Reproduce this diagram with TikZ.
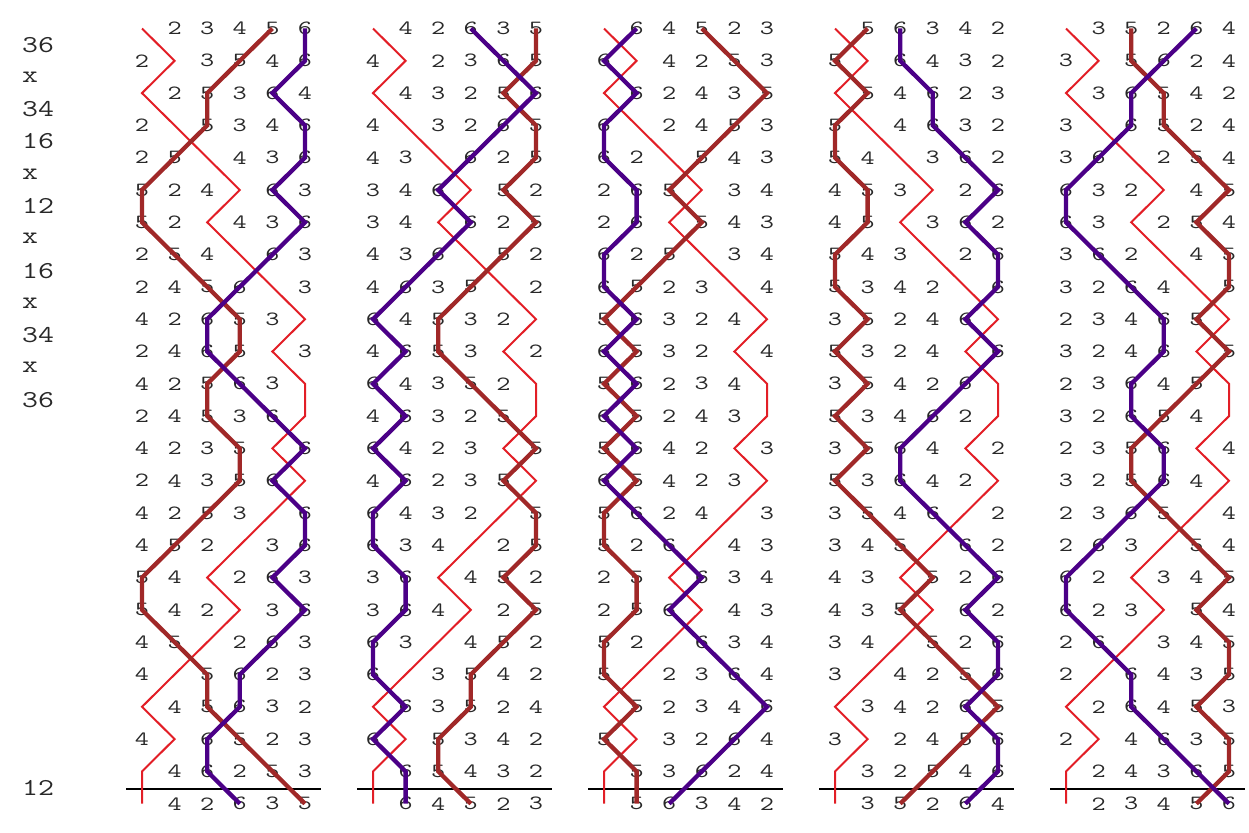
\documentclass[tikz,border=0pt]{standalone}
\usepackage{fontspec}
\definecolor{treblered}{RGB}{226,30,38}
\definecolor{bellbrown}{RGB}{160,40,40}
\definecolor{bellpurple}{RGB}{75,0,135}
\definecolor{numgray}{RGB}{40,40,40}
% lead-head mappings (bell in lead 0 -> bell in lead k)
\def\leadmaps{{1,2,3,4,5,6},{1,4,2,6,3,5},{1,6,4,5,2,3},{1,5,6,3,4,2},{1,3,5,2,6,4}}
% rows of the first lead
\def\rowlist{{1,2,3,4,5,6},{2,1,3,5,4,6},{1,2,5,3,6,4},{2,1,5,3,4,6},{2,5,1,4,3,6},{5,2,4,1,6,3},{5,2,1,4,3,6},{2,5,4,1,6,3},{2,4,5,6,1,3},{4,2,6,5,3,1},{2,4,6,5,1,3},{4,2,5,6,3,1},{2,4,5,3,6,1},{4,2,3,5,1,6},{2,4,3,5,6,1},{4,2,5,3,1,6},{4,5,2,1,3,6},{5,4,1,2,6,3},{5,4,2,1,3,6},{4,5,1,2,6,3},{4,1,5,6,2,3},{1,4,5,6,3,2},{4,1,6,5,2,3},{1,4,6,2,5,3},{1,4,2,6,3,5}}
\newcommand\stretchnum[1]{\scalebox{1.36}[1]{#1}}
\newcommand\stretchlbl[1]{\scalebox{1.28}[1]{#1}}
\begin{document}
\begin{tikzpicture}[x=1pt,y=-1pt,
  num/.style={inner sep=0pt,text=numgray,font=\ttfamily\fontsize{20.2}{20.2}\selectfont},
  lbl/.style={inner sep=0pt,anchor=west,text=numgray,font=\ttfamily\fontsize{24.2}{24.2}\selectfont},
  treble/.style={draw=treblered,line width=2pt},
  bellfive/.style={draw=bellbrown,line width=4.3pt},
  bellsix/.style={draw=bellpurple,line width=4.3pt},
  leadend/.style={draw=black,line width=2pt}]
\useasboundingbox (0,0) rectangle (1249,832);
% numbers
\foreach \lm [count=\ld from 0] in \leadmaps {
  \foreach \row [count=\rw from 0] in \rowlist {
    \foreach \src [count=\ps from 0] in \row {
      \pgfmathtruncatemacro\bell{{\lm}[\src-1]}
      \coordinate (c\ld-\rw-\bell) at ({142+231*\ld+32.6*\ps},{28.5+32.3*\rw});
      \ifnum\bell=1\relax\else
        \node[num] (n\ld-\rw-\ps) at (c\ld-\rw-\bell) {\stretchnum{\bell}};
      \fi
    }
  }
}
% lead-end lines
\foreach \ld in {0,...,4} {
  \coordinate (ls\ld) at ({126+231*\ld},789);
  \coordinate (le\ld) at ({321+231*\ld},789);
  \draw[leadend] (ls\ld) -- (le\ld);
}
% bell paths
\foreach \ld in {0,...,4} {
  \draw[treble] (c\ld-0-1) \foreach \rw in {1,...,24}{ -- (c\ld-\rw-1)};
}
\foreach \ld in {0,...,4} {
  \draw[bellfive] (c\ld-0-5) \foreach \rw in {1,...,24}{ -- (c\ld-\rw-5)};
}
\foreach \ld in {0,...,4} {
  \draw[bellsix] (c\ld-0-6) \foreach \rw in {1,...,24}{ -- (c\ld-\rw-6)};
}
% place notation
\foreach \lab [count=\i from 0] in {36,x,34,16,x,12,x,16,x,34,x,36} {
  \node[lbl] (pn\i) at (22,{28.5+32.3*(\i+0.5)}) {\stretchlbl{\lab}};
}
\node[lbl] (pnle) at (22,{28.5+32.3*23.5}) {\stretchlbl{12}};
\end{tikzpicture}
\end{document}
